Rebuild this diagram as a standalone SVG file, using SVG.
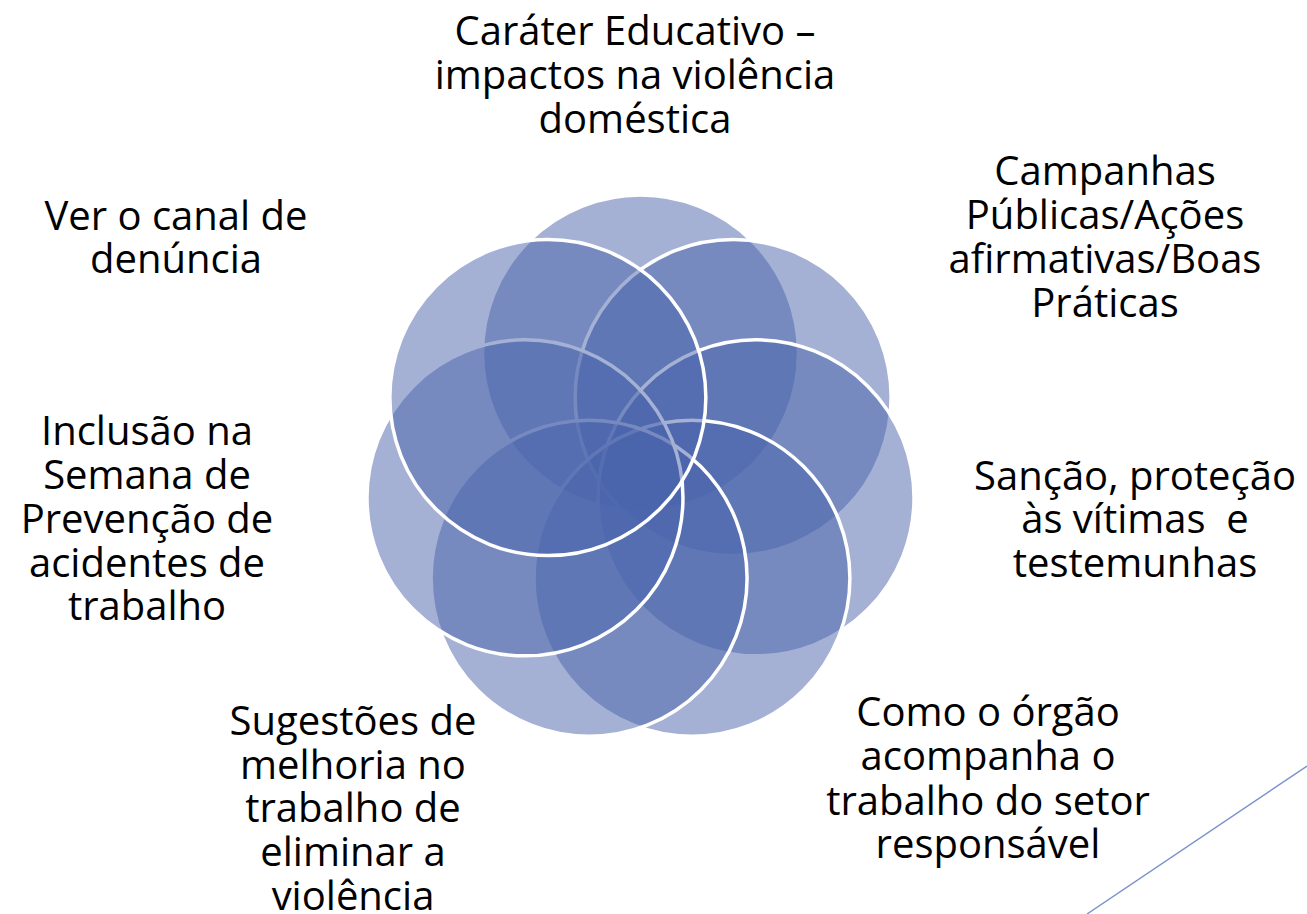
<svg xmlns="http://www.w3.org/2000/svg" width="1307" height="914" viewBox="0 0 1307 914">
<style>
.c{fill:#4964AC;fill-opacity:0.5;stroke:#FFFFFF;stroke-width:3.5}
.t{font-family:"Open Sans","Noto Sans","Liberation Sans",sans-serif;font-size:40px;fill:#000;text-anchor:middle}
</style>
<rect width="1307" height="914" fill="#FFFFFF"/>
<g id="circles">
<circle id="c1" class="c" cx="640.5" cy="353" r="158"/>
<circle id="c2" class="c" cx="733.15" cy="397.62" r="158"/>
<circle id="c3" class="c" cx="756.03" cy="497.87" r="158"/>
<circle id="c4" class="c" cx="691.92" cy="578.27" r="158"/>
<circle id="c5" class="c" cx="589.08" cy="578.27" r="158"/>
<circle id="c6" class="c" cx="524.97" cy="497.87" r="158"/>
<circle id="c7" class="c" cx="547.85" cy="397.62" r="158"/>
</g>
<g id="label1"><text class="t" x="635" y="45">Caráter Educativo –</text><text class="t" x="635" y="89">impactos na violência</text><text class="t" x="635" y="133">doméstica</text></g>
<g id="label2"><text class="t" x="1105" y="185">Campanhas</text><text class="t" x="1105" y="229">Públicas/Ações</text><text class="t" x="1105" y="273">afirmativas/Boas</text><text class="t" x="1105" y="317">Práticas</text></g>
<g id="label3"><text class="t" x="1135" y="490">Sanção, proteção</text><text class="t" x="1135" y="533" xml:space="preserve">às vítimas  e</text><text class="t" x="1135" y="577">testemunhas</text></g>
<g id="label4"><text class="t" x="988" y="726">Como o órgão</text><text class="t" x="988" y="770">acompanha o</text><text class="t" x="988" y="815">trabalho do setor</text><text class="t" x="988" y="858">responsável</text></g>
<g id="label5"><text class="t" x="353" y="735">Sugestões de</text><text class="t" x="353" y="779">melhoria no</text><text class="t" x="353" y="822">trabalho de</text><text class="t" x="353" y="866">eliminar a</text><text class="t" x="353" y="910">violência</text></g>
<g id="label6"><text class="t" x="147" y="445">Inclusão na</text><text class="t" x="147" y="489">Semana de</text><text class="t" x="147" y="533">Prevenção de</text><text class="t" x="147" y="577">acidentes de</text><text class="t" x="147" y="620">trabalho</text></g>
<g id="label7"><text class="t" x="176" y="230">Ver o canal de</text><text class="t" x="176" y="273">denúncia</text></g>
<g id="connectors"><line x1="1307" y1="766" x2="1087" y2="914" stroke="#7B93CC" stroke-width="1.5"/></g>
</svg>
